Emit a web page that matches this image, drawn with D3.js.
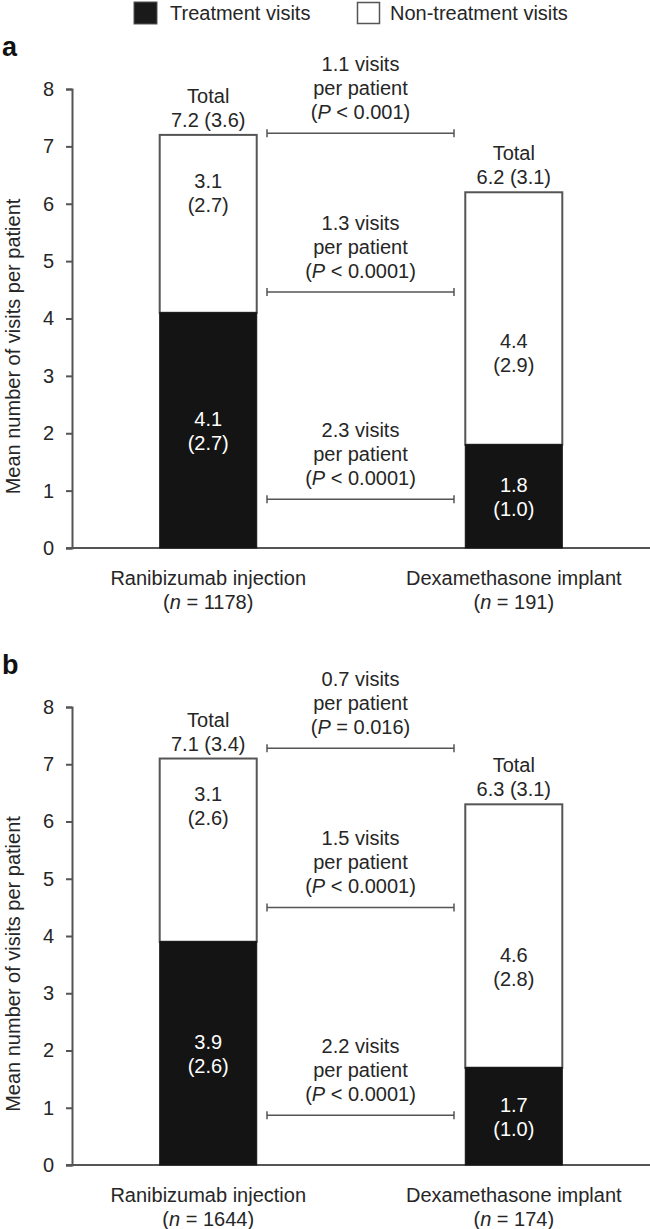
<!DOCTYPE html>
<html>
<head>
<meta charset="utf-8">
<script src="https://cdn.jsdelivr.net/npm/d3@7"></script>
<style>
  body { margin: 0; background: #fff; }
  text { font-family: "Liberation Sans", Arial, sans-serif; fill: #262626; }
</style>
</head>
<body>
<div id="chart"></div>
<script>
const categories = ["Ranibizumab injection", "Dexamethasone implant"];
const panels = ["a", "b"];
const nCounts = [[1178, 191], [1644, 174]];
const treatment = [[4.1, 1.8], [3.9, 1.7]];
const treatmentSD = [[2.7, 1.0], [2.6, 1.0]];
const nonTreatment = [[3.1, 4.4], [3.1, 4.6]];
const nonTreatmentSD = [[2.7, 2.9], [2.6, 2.8]];
const totals = [[7.2, 6.2], [7.1, 6.3]];
const totalSD = [[3.6, 3.1], [3.4, 3.1]];
const diffs = [[1.1, 1.3, 2.3], [0.7, 1.5, 2.2]];
const pOps = [["<", "<", "<"], ["=", "<", "<"]];
const pVals = [["0.001", "0.0001", "0.0001"], ["0.016", "0.0001", "0.0001"]];
const yTicks = [0, 1, 2, 3, 4, 5, 6, 7, 8];

// where the comparison brackets sit, in axis units
const bracketY = [[7.23, 4.46, 0.85], [7.28, 4.5, 0.87]];
// where the white-segment labels sit (segments are crowded by brackets)
const whiteLabelY = [[6.2, 3.41], [6.28, 3.47]];

const width = 650, height = 1229;
const fs = 20, lh = 24;
const grey = "#555";

const svg = d3.select("#chart").append("svg")
  .attr("width", width)
  .attr("height", height);

// legend
const legend = svg.append("g");
legend.append("rect").attr("x", 134).attr("y", 2).attr("width", 23).attr("height", 22)
  .attr("fill", "#1a1a1a").attr("stroke", grey);
legend.append("text").attr("x", 170).attr("y", 20).attr("font-size", fs).text("Treatment visits");
legend.append("rect").attr("x", 357.5).attr("y", 2.5).attr("width", 22).attr("height", 21)
  .attr("fill", "#fff").attr("stroke", grey).attr("stroke-width", 1.5);
legend.append("text").attr("x", 390).attr("y", 20).attr("font-size", fs).text("Non-treatment visits");

const x = d3.scaleBand()
  .domain(categories)
  .range([72, 650])
  .paddingInner(0.6825)
  .paddingOuter(0.287);

const panelRange = [[548, 89], [1165, 707]];

panels.forEach((p, pi) => {
  const y = d3.scaleLinear().domain([0, 8]).range(panelRange[pi]);
  const g = svg.append("g");

  g.append("text")
    .attr("x", 2).attr("y", y(8) - 33)
    .attr("font-size", 27).attr("font-weight", "bold")
    .style("fill", "#111")
    .text(p);

  // y axis
  const yAxis = g.append("g")
    .attr("transform", "translate(72,0)")
    .call(d3.axisLeft(y).tickValues(yTicks).tickSize(6).tickPadding(12));
  yAxis.selectAll("path, line").attr("stroke", grey).attr("stroke-width", 2);
  yAxis.selectAll("text").attr("font-size", fs).attr("font-family", null).style("fill", "#262626");

  // baseline
  g.append("line")
    .attr("x1", 66).attr("x2", width)
    .attr("y1", y(0)).attr("y2", y(0))
    .attr("stroke", grey).attr("stroke-width", 2);

  g.append("text")
    .attr("transform", `translate(20,${(y(0) + y(8)) / 2 + 28}) rotate(-90)`)
    .attr("text-anchor", "middle")
    .attr("font-size", fs)
    .text("Mean number of visits per patient");

  categories.forEach((c, ci) => {
    const bx = x(c), bw = x.bandwidth(), cx = bx + bw / 2;
    const t = treatment[pi][ci], tot = totals[pi][ci];

    // non-treatment (top) segment
    g.append("rect")
      .attr("x", bx).attr("width", bw)
      .attr("y", y(tot)).attr("height", y(t) - y(tot))
      .attr("fill", "#fff").attr("stroke", grey).attr("stroke-width", 2);
    // treatment segment
    g.append("rect")
      .attr("x", bx).attr("width", bw)
      .attr("y", y(t)).attr("height", y(0) - y(t))
      .attr("fill", "#141414").attr("stroke", "#141414");

    // total label
    g.append("text").attr("x", cx).attr("y", y(tot) - 8 - lh)
      .attr("text-anchor", "middle").attr("font-size", fs).text("Total");
    g.append("text").attr("x", cx).attr("y", y(tot) - 8)
      .attr("text-anchor", "middle").attr("font-size", fs)
      .text(`${tot.toFixed(1)} (${totalSD[pi][ci].toFixed(1)})`);

    // white segment label
    const wy = y(whiteLabelY[pi][ci]);
    g.append("text").attr("x", cx).attr("y", wy - 4)
      .attr("text-anchor", "middle").attr("font-size", fs)
      .text(nonTreatment[pi][ci].toFixed(1));
    g.append("text").attr("x", cx).attr("y", wy - 4 + lh)
      .attr("text-anchor", "middle").attr("font-size", fs)
      .text(`(${nonTreatmentSD[pi][ci].toFixed(1)})`);

    // black segment label
    const by = (y(t) + y(0)) / 2;
    g.append("text").attr("x", cx).attr("y", by - 4)
      .attr("text-anchor", "middle").attr("font-size", fs).style("fill", "#fff")
      .text(t.toFixed(1));
    g.append("text").attr("x", cx).attr("y", by - 4 + lh)
      .attr("text-anchor", "middle").attr("font-size", fs).style("fill", "#fff")
      .text(`(${treatmentSD[pi][ci].toFixed(1)})`);

    // category label
    g.append("text").attr("x", cx).attr("y", y(0) + 37)
      .attr("text-anchor", "middle").attr("font-size", fs).text(c);
    const nl = g.append("text").attr("x", cx).attr("y", y(0) + 37 + lh)
      .attr("text-anchor", "middle").attr("font-size", fs);
    nl.append("tspan").text("(");
    nl.append("tspan").attr("font-style", "italic").text("n");
    nl.append("tspan").text(` = ${nCounts[pi][ci]})`);
  });

  // comparison brackets
  const x0 = 267, x1 = 454, mid = (x0 + x1) / 2;
  bracketY[pi].forEach((v, k) => {
    const yy = y(v);
    g.append("path")
      .attr("d", `M${x0},${yy - 4}V${yy + 4}M${x0},${yy}H${x1}M${x1},${yy - 4}V${yy + 4}`)
      .attr("fill", "none").attr("stroke", grey).attr("stroke-width", 1.5);
    const base = yy - 14;
    g.append("text").attr("x", mid).attr("y", base - 2 * lh)
      .attr("text-anchor", "middle").attr("font-size", fs)
      .text(`${diffs[pi][k].toFixed(1)} visits`);
    g.append("text").attr("x", mid).attr("y", base - lh)
      .attr("text-anchor", "middle").attr("font-size", fs)
      .text("per patient");
    const pt = g.append("text").attr("x", mid).attr("y", base)
      .attr("text-anchor", "middle").attr("font-size", fs);
    pt.append("tspan").text("(");
    pt.append("tspan").attr("font-style", "italic").text("P");
    pt.append("tspan").text(` ${pOps[pi][k]} ${pVals[pi][k]})`);
  });
});
</script>
</body>
</html>
